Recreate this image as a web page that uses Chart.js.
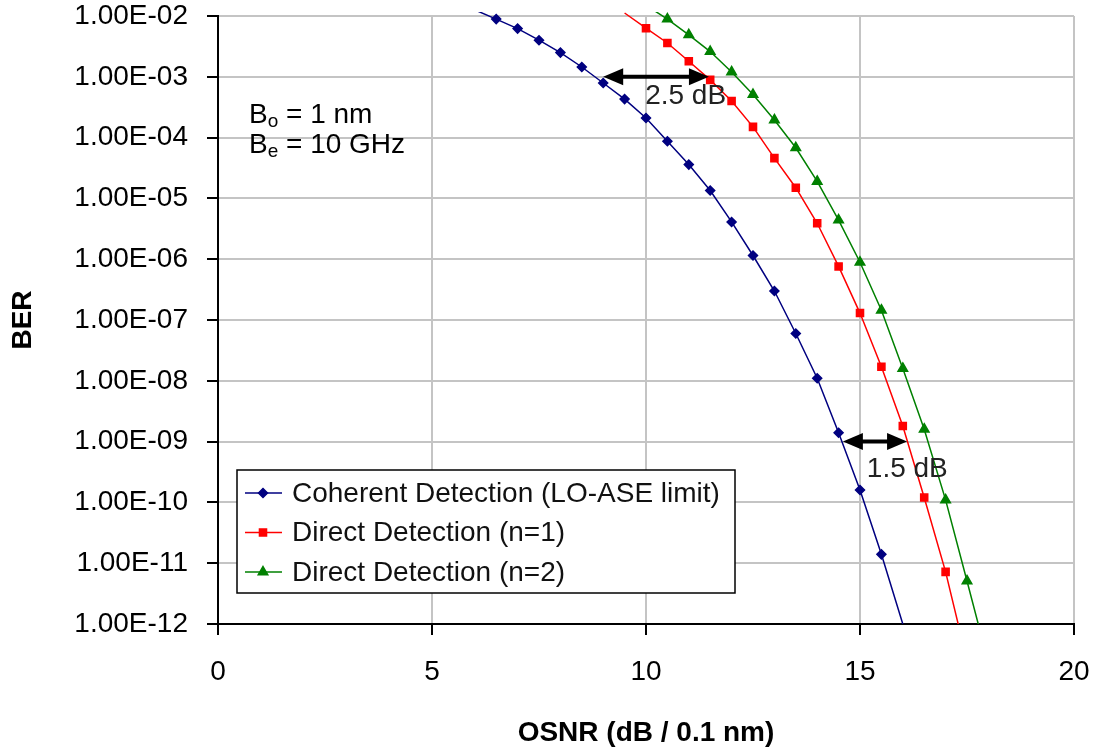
<!DOCTYPE html>
<html>
<head>
<meta charset="utf-8">
<title>BER vs OSNR</title>
<script src="https://cdn.jsdelivr.net/npm/chart.js"></script>
<style>
    body { margin: 0; background: #fff; }
    #wrap { width: 1098px; height: 756px; }
</style>
</head>
<body>
<div id="wrap"><canvas id="berChart" width="1098" height="756"></canvas></div>
<script>
// Datos
const osnrCoherent = [6.0, 6.5, 7.0, 7.5, 8.0, 8.5, 9.0, 9.5, 10.0, 10.5, 11.0, 11.5, 12.0, 12.5, 13.0, 13.5, 14.0, 14.5, 15.0, 15.5, 16.0];
const berCoherent = [1.26e-2, 8.9e-3, 6.2e-3, 4.0e-3, 2.5e-3, 1.45e-3, 7.9e-4, 4.3e-4, 2.1e-4, 8.7e-5, 3.6e-5, 1.35e-5, 4.1e-6, 1.15e-6, 3.0e-7, 6.0e-8, 1.1e-8, 1.4e-9, 1.6e-10, 1.4e-11, 1.0e-12];

const osnrDirect1 = [9.5, 10.0, 10.5, 11.0, 11.5, 12.0, 12.5, 13.0, 13.5, 14.0, 14.5, 15.0, 15.5, 16.0, 16.5, 17.0, 17.5];
const berDirect1 = [1.12e-2, 6.3e-3, 3.6e-3, 1.8e-3, 8.9e-4, 4.0e-4, 1.5e-4, 4.6e-5, 1.5e-5, 3.9e-6, 7.6e-7, 1.3e-7, 1.7e-8, 1.8e-9, 1.2e-10, 7.2e-12, 2.5e-13];

const osnrDirect2 = [10.0, 10.5, 11.0, 11.5, 12.0, 12.5, 13.0, 13.5, 14.0, 14.5, 15.0, 15.5, 16.0, 16.5, 17.0, 17.5, 18.0];
const berDirect2 = [1.5e-2, 8.9e-3, 4.9e-3, 2.6e-3, 1.2e-3, 5.1e-4, 1.95e-4, 6.8e-5, 1.9e-5, 4.4e-6, 8.9e-7, 1.45e-7, 1.6e-8, 1.6e-9, 1.1e-10, 5.1e-12, 2.3e-13];

const seriesLabels = ['Coherent Detection (LO-ASE limit)', 'Direct Detection (n=1)', 'Direct Detection (n=2)'];
const yTicks = [1e-2, 1e-3, 1e-4, 1e-5, 1e-6, 1e-7, 1e-8, 1e-9, 1e-10, 1e-11, 1e-12];
const xTicks = [0, 5, 10, 15, 20];

// Flechas de diferencia (x inicial, x final, BER, texto, x del texto)
const gapArrows = [
    { x1: 9.0, x2: 11.47, ber: 1e-3, text: '2.5 dB', textX: 9.98, dy: 27 },
    { x1: 14.6, x2: 16.1, ber: 1e-9, text: '1.5 dB', textX: 15.16, dy: 35 }
];
const paramLines = [['B', 'o', ' = 1 nm'], ['B', 'e', ' = 10 GHz']];

const FONT = "'Liberation Sans', Arial, sans-serif";

function toPoints(xs, ys) {
    return xs.map((x, i) => ({ x: x, y: ys[i] }));
}

function formatBer(v) {
    const parts = Number(v).toExponential(2).split('e');
    const n = parseInt(parts[1], 10);
    return parts[0] + 'E' + (n < 0 ? '-' : '+') + String(Math.abs(n)).padStart(2, '0');
}

// radio 0 para puntos fuera del eje o sobre el borde (Excel no los dibuja)
function radiusFor(r) {
    return function(ctx) {
        const v = ctx.raw && ctx.raw.y;
        return (v > 1e-2 || v < 1.01e-12) ? 0 : r;
    };
}

function drawArrowHead(ctx, x, y, dir) {
    ctx.beginPath();
    ctx.moveTo(x, y);
    ctx.lineTo(x - dir * 20, y - 8.5);
    ctx.lineTo(x - dir * 20, y + 8.5);
    ctx.closePath();
    ctx.fill();
}

const annotationsPlugin = {
    id: 'annotations',
    afterDatasetsDraw(chart) {
        const ctx = chart.ctx;
        const xs = chart.scales.x;
        const ys = chart.scales.y;
        const area = chart.chartArea;
        ctx.save();

        // flechas
        gapArrows.forEach(a => {
            const px1 = xs.getPixelForValue(a.x1);
            const px2 = xs.getPixelForValue(a.x2);
            const py = ys.getPixelForValue(a.ber);
            ctx.strokeStyle = '#000';
            ctx.fillStyle = '#000';
            ctx.lineWidth = 4;
            ctx.beginPath();
            ctx.moveTo(px1 + 12, py);
            ctx.lineTo(px2 - 12, py);
            ctx.stroke();
            drawArrowHead(ctx, px1, py, -1);
            drawArrowHead(ctx, px2, py, 1);
            ctx.font = '28px ' + FONT;
            ctx.textAlign = 'left';
            ctx.textBaseline = 'alphabetic';
            ctx.fillStyle = '#222';
            ctx.fillText(a.text, xs.getPixelForValue(a.textX), py + a.dy);
        });

        // parámetros
        ctx.fillStyle = '#000';
        paramLines.forEach((ln, i) => {
            let x = area.left + 31;
            const base = area.top + 107 + i * 30;
            ctx.font = '28px ' + FONT;
            ctx.fillText(ln[0], x, base);
            x += ctx.measureText(ln[0]).width;
            ctx.font = '19px ' + FONT;
            ctx.fillText(ln[1], x, base + 4);
            x += ctx.measureText(ln[1]).width;
            ctx.font = '28px ' + FONT;
            ctx.fillText(ln[2], x, base);
        });

        // leyenda
        const lx = area.left + 19, ly = area.top + 454, lw = 498, lh = 123;
        ctx.fillStyle = '#fff';
        ctx.fillRect(lx, ly, lw, lh);
        ctx.strokeStyle = '#000';
        ctx.lineWidth = 1.5;
        ctx.strokeRect(lx, ly, lw, lh);
        chart.data.datasets.forEach((ds, i) => {
            const ry = ly + 23 + i * 39.5;
            ctx.strokeStyle = ds.borderColor;
            ctx.lineWidth = 1.5;
            ctx.beginPath();
            ctx.moveTo(lx + 8, ry);
            ctx.lineTo(lx + 45, ry);
            ctx.stroke();
            ctx.fillStyle = ds.backgroundColor;
            Chart.helpers.drawPoint(ctx, { pointStyle: ds.pointStyle, radius: ds.legendRadius, rotation: 0, borderWidth: 1 }, lx + 26, ry);
            ctx.fillStyle = '#111';
            ctx.font = '28px ' + FONT;
            ctx.textBaseline = 'middle';
            ctx.fillText(ds.label, lx + 55, ry + 1);
            ctx.textBaseline = 'alphabetic';
        });
        ctx.restore();
    }
};

const ctx1 = document.getElementById('berChart');
new Chart(ctx1, {
    type: 'line',
    data: {
        datasets: [{
            label: seriesLabels[0],
            data: toPoints(osnrCoherent, berCoherent),
            borderColor: '#000080',
            backgroundColor: '#000080',
            borderWidth: 1.5,
            pointStyle: 'rectRot',
            pointRadius: radiusFor(4.5),
            legendRadius: 4.5,
            clip: { left: 0, top: 4, right: 0, bottom: 0 }
        }, {
            label: seriesLabels[1],
            data: toPoints(osnrDirect1, berDirect1),
            borderColor: '#ff0000',
            backgroundColor: '#ff0000',
            borderWidth: 1.5,
            pointStyle: 'rect',
            pointRadius: radiusFor(5),
            legendRadius: 5,
            clip: { left: 0, top: 4, right: 0, bottom: 0 }
        }, {
            label: seriesLabels[2],
            data: toPoints(osnrDirect2, berDirect2),
            borderColor: '#008000',
            backgroundColor: '#008000',
            borderWidth: 1.5,
            pointStyle: 'triangle',
            pointRadius: radiusFor(5.5),
            legendRadius: 5.5,
            clip: { left: 0, top: 4, right: 0, bottom: 0 }
        }]
    },
    options: {
        responsive: false,
        animation: false,
        layout: {
            padding: { top: 16, right: 24, left: 0, bottom: 0 }
        },
        plugins: {
            legend: { display: false },
            tooltip: { enabled: false }
        },
        elements: {
            line: { tension: 0 },
            point: { borderWidth: 1 }
        },
        scales: {
            x: {
                type: 'linear',
                min: 0,
                max: 20,
                afterBuildTicks: function(scale) {
                    scale.ticks = xTicks.map(v => ({ value: v }));
                },
                afterFit: function(scale) {
                    scale.height = 132;
                    scale.paddingLeft = 0;
                    scale.paddingRight = 0;
                },
                grid: {
                    color: '#c4c4c4',
                    lineWidth: 2,
                    tickColor: '#000',
                    tickLength: 11,
                    tickWidth: 2
                },
                border: { color: '#000', width: 2 },
                ticks: {
                    color: '#000',
                    padding: 20,
                    maxRotation: 0,
                    font: { family: FONT, size: 28 }
                },
                title: {
                    display: true,
                    text: 'OSNR (dB / 0.1 nm)',
                    color: '#000',
                    padding: { top: 0, bottom: 6 },
                    font: { family: FONT, size: 28, weight: 'bold' }
                }
            },
            y: {
                type: 'logarithmic',
                min: 1e-12,
                max: 1e-2,
                afterBuildTicks: function(scale) {
                    scale.ticks = yTicks.map(v => ({ value: v }));
                },
                afterFit: function(scale) {
                    scale.width = 218;
                    scale.paddingTop = 0;
                    scale.paddingBottom = 0;
                },
                grid: {
                    color: '#c4c4c4',
                    lineWidth: 2,
                    tickColor: '#000',
                    tickLength: 11,
                    tickWidth: 2
                },
                border: { color: '#000', width: 2 },
                ticks: {
                    color: '#000',
                    padding: 19,
                    font: { family: FONT, size: 28 },
                    callback: function(value) {
                        return formatBer(value);
                    }
                },
                title: {
                    display: true,
                    text: 'BER',
                    color: '#000',
                    padding: { top: 6, bottom: 0 },
                    font: { family: FONT, size: 28, weight: 'bold' }
                }
            }
        }
    },
    plugins: [annotationsPlugin]
});
</script>
</body>
</html>
